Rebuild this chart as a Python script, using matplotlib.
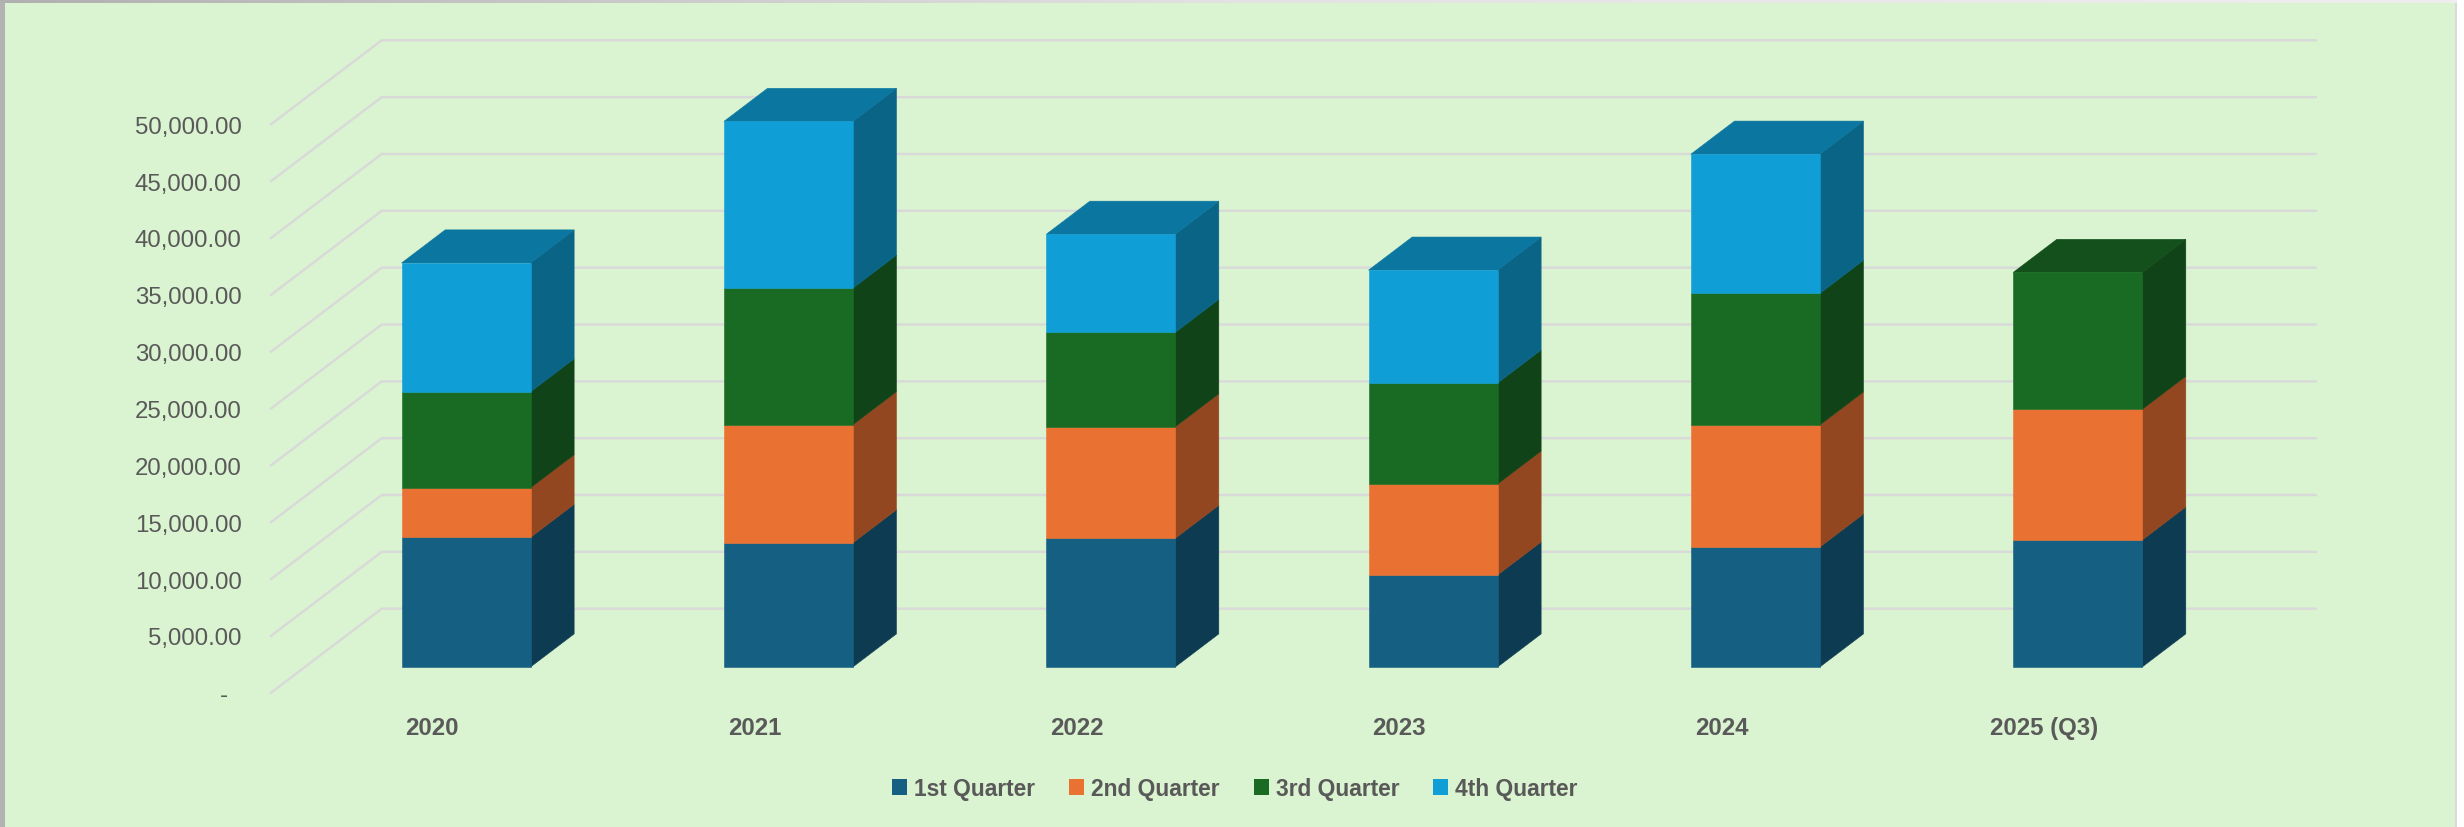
# plot.py - stacked quarterly bars in an oblique 3D look
import numpy as np
import matplotlib
matplotlib.use('Agg')
import matplotlib.pyplot as plt
from matplotlib.patches import Patch, Rectangle
from matplotlib.colors import LinearSegmentedColormap, to_rgb

years = ['2020', '2021', '2022', '2023', '2024', '2025 (Q3)']
q1 = [11400, 10920, 11315, 8090, 10550, 11170]
q2 = [4360, 10390, 9810, 8000, 10740, 11490]
q3 = [8440, 12010, 8300, 8880, 11570, 12050]
q4 = [11340, 14670, 8640, 9940, 12250, 0]
quarter_names = ['1st Quarter', '2nd Quarter', '3rd Quarter', '4th Quarter']
quarter_colors = ['#156082', '#E97132', '#196B24', '#0F9ED5']
y_ticks = list(range(0, 50001, 5000))

W, H = 2464, 828
BG = '#DAF3D0'
GRID = '#D9D9D9'
TEXT = '#595959'

# oblique depth of the floor, in x slots and value units
DEPTH_X = 0.3435
DEPTH_V = 7390
BAR_WIDTH = 0.4
BAR_D0, BAR_D1 = 0.306, 0.70

plt.rcParams['font.family'] = ['Liberation Sans', 'DejaVu Sans']

fig = plt.figure(figsize=(W / 100, H / 100), dpi=100, facecolor='white')


def px_rect(x0, y0, x1, y1):
    # pixel box (from top left) to figure fractions
    return [x0 / W, 1 - y1 / H, (x1 - x0) / W, (y1 - y0) / H]


# panel and its border, behind the axes
fig.add_artist(Rectangle((4.5 / W, 0), (2455 - 4.5) / W, 1 - 4 / H, transform=fig.transFigure,
                         fc=BG, ec='none', zorder=-2))
fig.add_artist(Rectangle((0, 0), 4.5 / W, 1, transform=fig.transFigure, fc='#B2B2B2', ec='none', zorder=-2))
fig.add_artist(Rectangle((2455 / W, 0), 2 / W, 1 - 3 / H, transform=fig.transFigure,
                         fc='#DADADA', ec='none', zorder=-2))
top = fig.add_axes(px_rect(0, 0, 2457, 4))
top.imshow(np.linspace(0, 1, 256).reshape(1, -1), aspect='auto',
           cmap=LinearSegmentedColormap.from_list('edge', ['#B0B0B0', '#E2E2E2', '#EEEEEE']))
top.axis('off')

ax = fig.add_axes(px_rect(271, 125.3, 2205, 693.7))
ax.patch.set_alpha(0)
ax.set_xlim(-0.5, 5.5)
ax.set_ylim(0, 50000)
for s in ax.spines.values():
    s.set_visible(False)

# gridlines: side wall then back wall
for v in y_ticks:
    ax.plot([-0.5, -0.5 + DEPTH_X, 5.5 + DEPTH_X], [v, v + DEPTH_V, v + DEPTH_V],
            color=GRID, lw=1.7, clip_on=False, zorder=1, solid_joinstyle='miter')


def shade(color, k):
    return tuple(c * k for c in to_rgb(color))


def draw_box(i, v0, v1, color, with_top):
    xl = i - BAR_WIDTH / 2 + BAR_D0 * DEPTH_X
    xr = i + BAR_WIDTH / 2 + BAR_D0 * DEPTH_X
    dx = (BAR_D1 - BAR_D0) * DEPTH_X
    dv = (BAR_D1 - BAR_D0) * DEPTH_V
    base = BAR_D0 * DEPTH_V
    b, t = v0 + base, v1 + base
    side = shade(color, 0.63)
    ax.fill([xr, xr + dx, xr + dx, xr], [b, b + dv, t + dv, t], fc=side, ec=side, lw=0.4,
            clip_on=False, zorder=3)
    if with_top:
        c = shade(color, 0.75)
        ax.fill([xl, xr, xr + dx, xl + dx], [t, t, t + dv, t + dv], fc=c, ec=c, lw=0.4,
                clip_on=False, zorder=3)
    ax.fill([xl, xr, xr, xl], [b, b, t, t], fc=color, ec=color, lw=0.4, clip_on=False, zorder=4)


series = [q1, q2, q3, q4]
for i in range(len(years)):
    vals = [s[i] for s in series]
    last = max(k for k, v in enumerate(vals) if v > 0)
    running = 0
    for k, v in enumerate(vals):
        if v > 0:
            draw_box(i, running, running + v, quarter_colors[k], k == last)
            running += v

ax.set_yticks(y_ticks)
ax.set_yticklabels(['{:,.2f}'.format(v) if v else '-  ' for v in y_ticks], fontsize=17.3, color=TEXT)
ax.set_xticks(range(len(years)))
ax.set_xticklabels(years, fontsize=17.3, fontweight='bold', color=TEXT)
ax.tick_params(axis='both', length=0)
ax.tick_params(axis='y', pad=21)
ax.tick_params(axis='x', pad=17)

handles = [Patch(fc=c, ec='none') for c in quarter_colors]
fig.legend(handles, quarter_names, loc='center', bbox_to_anchor=(1235 / W, 1 - 789.5 / H), ncol=4,
           frameon=False, handlelength=0.66, handleheight=0.66, handletextpad=0.3,
           columnspacing=1.5, borderpad=0, borderaxespad=0,
           prop={'size': 16.4, 'weight': 'bold'}, labelcolor=TEXT)

fig.savefig('out.png', dpi=100, facecolor=fig.get_facecolor())
